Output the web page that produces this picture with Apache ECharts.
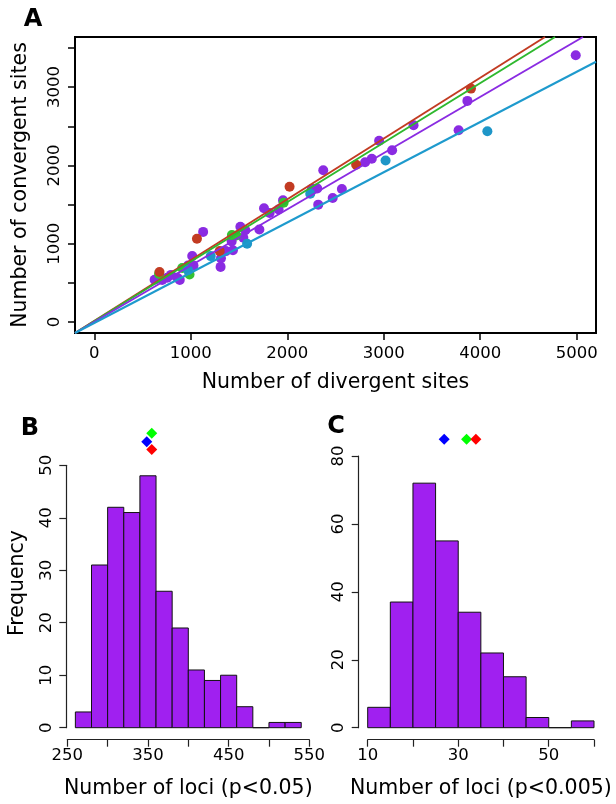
<!DOCTYPE html>
<html>
<head>
<meta charset="utf-8">
<script src="https://cdn.jsdelivr.net/npm/echarts@6/dist/echarts.min.js"></script>
<style>
html, body { margin: 0; padding: 0; background: #fff; }
#main { width: 616px; height: 804px; }
</style>
</head>
<body>
<div id="main"></div>
<script>
// ---- panel A: convergent vs divergent sites ----
const purplePts = [[625,541],[704,538],[756,566],[795,602],[860,566],[886,538],[971,723],[1028,723],
  [1015,844],[1128,1151],[1313,813],[1309,704],[1364,906],[1437,917],[1424,1029],[1514,1217],
  [1566,1173],[1545,1077],[1711,1182],[1759,1454],[1817,1393],[1910,1438],[1956,1555],[2256,1702],
  [2311,1705],[2373,1939],[2321,1499],[2471,1584],[2566,1699],[2807,2041],[2876,2085],[2952,2314],
  [3087,2194],[3309,2513],[3776,2449],[3867,2824],[4990,3406]];
const greenPts = [[671,615],[911,691],[987,608],[1426,1110],[1473,1106],[1962,1523]];
const bluePts = [[971,663],[1207,842],[1584,1000],[2238,1638],[3019,2063],[4074,2436]];
const redPts = [[676,640],[1064,1064],[1300,906],[2024,1727],[2714,2008],[3904,2981]];

// fitted lines, end points
const redLine = [[-200,-140],[4671,3640]];
const greenLine = [[-200,-140],[4775,3640]];
const purpleLine = [[-200,-140],[5065,3640]];
const blueLine = [[-200,-140],[5200,3324]];

const aTicksX = [0,1000,2000,3000,4000,5000];
const aTicksY = [0,500,1000,1500,2000,2500,3000,3500];
const aLabelsY = [0,1000,2000,3000];

// ---- panel B: loci with p<0.05 ----
const bEdges = [260,280,300,320,340,360,380,400,420,440,460,480,500,520,540];
const bCounts = [3,31,42,41,48,26,19,11,9,10,4,0,1,1];
const bTicksX = [250,300,350,400,450,500,550];
const bLabelsX = [250,350,450,550];
const bTicksY = [0,10,20,30,40,50];
const bBlue = [[348.5,54.5]];
const bGreen = [[354.7,56.1]];
const bRed = [[354.7,53.0]];

// ---- panel C: loci with p<0.005 ----
const cEdges = [10,15,20,25,30,35,40,45,50,55,60];
const cCounts = [6,37,72,55,34,22,15,3,0,2];
const cTicksX = [10,20,30,40,50,60];
const cLabelsX = [10,30,50];
const cTicksY = [0,20,40,60,80];
const cBlue = [[26.9,84.9]];
const cGreen = [[31.85,84.9]];
const cRed = [[33.9,84.9]];

const FONT = 'DejaVu Sans';
const chart = echarts.init(document.getElementById('main'), null, { renderer: 'canvas' });

function bins(edges, counts) {
  return counts.map((c, i) => [edges[i], edges[i + 1], c]);
}

function histItem(params, api) {
  const p0 = api.coord([api.value(0), api.value(2)]);
  const p1 = api.coord([api.value(1), 0]);
  return {
    type: 'rect',
    shape: { x: p0[0], y: p0[1], width: p1[0] - p0[0], height: p1[1] - p0[1] },
    style: { fill: '#A020F0', stroke: '#111', lineWidth: 1 }
  };
}

function pts(data, color, xi) {
  return { type: 'scatter', xAxisIndex: xi, yAxisIndex: xi, data: data, symbol: 'circle',
    symbolSize: 10, itemStyle: { color: color, opacity: 1 }, silent: true };
}
function fitLine(data, color) {
  return { type: 'line', xAxisIndex: 0, yAxisIndex: 0, data: data, showSymbol: false,
    lineStyle: { color: color, width: 2 }, silent: true, clip: true };
}
function diamond(data, color, xi) {
  return { type: 'scatter', xAxisIndex: xi, yAxisIndex: xi, data: data, symbol: 'diamond',
    symbolSize: 11, itemStyle: { color: color, opacity: 1 }, clip: false, silent: true };
}

const plain = v => String(v);
const tickLabel = { color: '#000', fontSize: 16.5, fontFamily: FONT, formatter: plain };
const nameStyle = { color: '#000', fontSize: 20.5, fontFamily: FONT };

function histX(grid, min, max, ticks, labels, title) {
  return {
    type: 'value', gridIndex: grid, min: min, max: max, offset: 12,
    axisLine: { show: true, onZero: false, lineStyle: { color: '#222', width: 1.2 } },
    axisTick: { show: true, length: 7, customValues: ticks, lineStyle: { color: '#222', width: 1.2 } },
    axisLabel: Object.assign({ customValues: labels, margin: 8 }, tickLabel),
    splitLine: { show: false },
    name: title, nameLocation: 'middle', nameGap: 38, nameTextStyle: nameStyle
  };
}
function histY(grid, max, ticks, offset) {
  return {
    type: 'value', gridIndex: grid, min: 0, max: max, offset: offset,
    axisLine: { show: true, onZero: false, lineStyle: { color: '#222', width: 1.2 } },
    axisTick: { show: true, length: 7, customValues: ticks, lineStyle: { color: '#222', width: 1.2 } },
    axisLabel: Object.assign({ customValues: ticks, margin: 11, rotate: 90 }, tickLabel),
    splitLine: { show: false }
  };
}

const option = {
  animation: false,
  backgroundColor: '#fff',
  grid: [
    { left: 75, top: 37, width: 521, height: 296, show: true, borderColor: '#000', borderWidth: 2, backgroundColor: 'transparent' },
    { left: 67.3, top: 465.3, width: 242, height: 262.4 },
    { left: 367.7, top: 456, width: 226.3, height: 271.7 }
  ],
  xAxis: [
    {
      type: 'value', gridIndex: 0, min: -200, max: 5200,
      axisLine: { show: true, onZero: false, lineStyle: { color: '#000', width: 2 } },
      axisTick: { show: true, length: 7, customValues: aTicksX, lineStyle: { color: '#000', width: 1.5 } },
      axisLabel: Object.assign({ customValues: aTicksX, margin: 12 }, tickLabel),
      splitLine: { show: false },
      name: 'Number of divergent sites', nameLocation: 'middle', nameGap: 39, nameTextStyle: nameStyle
    },
    histX(1, 250, 550, bTicksX, bLabelsX, 'Number of loci (p<0.05)'),
    histX(2, 10, 60, cTicksX, cLabelsX, 'Number of loci (p<0.005)')
  ],
  yAxis: [
    {
      type: 'value', gridIndex: 0, min: -140, max: 3640,
      axisLine: { show: true, onZero: false, lineStyle: { color: '#000', width: 2 } },
      axisTick: { show: true, length: 7, customValues: aTicksY, lineStyle: { color: '#000', width: 1.5 } },
      axisLabel: Object.assign({ customValues: aLabelsY, margin: 12, rotate: 90 }, tickLabel),
      splitLine: { show: false },
      name: 'Number of convergent sites', nameLocation: 'middle', nameGap: 44, nameTextStyle: nameStyle
    },
    histY(1, 50, bTicksY, 1),
    histY(2, 80, cTicksY, 9)
  ],
  graphic: [
    { type: 'text', x: 33, y: 20, style: { text: 'A', font: 'bold 24px "DejaVu Sans"', fill: '#000', align: 'center', verticalAlign: 'middle' } },
    { type: 'text', x: 30, y: 429, style: { text: 'B', font: 'bold 24px "DejaVu Sans"', fill: '#000', align: 'center', verticalAlign: 'middle' } },
    { type: 'text', x: 336, y: 427, style: { text: 'C', font: 'bold 24px "DejaVu Sans"', fill: '#000', align: 'center', verticalAlign: 'middle' } },
    { type: 'text', x: 18, y: 583, rotation: Math.PI / 2, style: { text: 'Frequency', font: '20.5px "DejaVu Sans"', fill: '#000', align: 'center', verticalAlign: 'middle' } }
  ],
  series: [
    pts(purplePts, '#8A2BE2', 0),
    pts(greenPts, '#33C233', 0),
    pts(bluePts, '#1E96C8', 0),
    pts(redPts, '#C23B22', 0),
    fitLine(redLine, '#C23B22'),
    fitLine(greenLine, '#2EB82E'),
    fitLine(purpleLine, '#8A2BE2'),
    fitLine(blueLine, '#1E9ACD'),
    { type: 'custom', xAxisIndex: 1, yAxisIndex: 1, data: bins(bEdges, bCounts), renderItem: histItem, silent: true },
    diamond(bBlue, '#0000FF', 1),
    diamond(bGreen, '#00FF00', 1),
    diamond(bRed, '#FF0000', 1),
    { type: 'custom', xAxisIndex: 2, yAxisIndex: 2, data: bins(cEdges, cCounts), renderItem: histItem, silent: true },
    diamond(cBlue, '#0000FF', 2),
    diamond(cGreen, '#00FF00', 2),
    diamond(cRed, '#FF0000', 2)
  ]
};

chart.setOption(option);
</script>
</body>
</html>
